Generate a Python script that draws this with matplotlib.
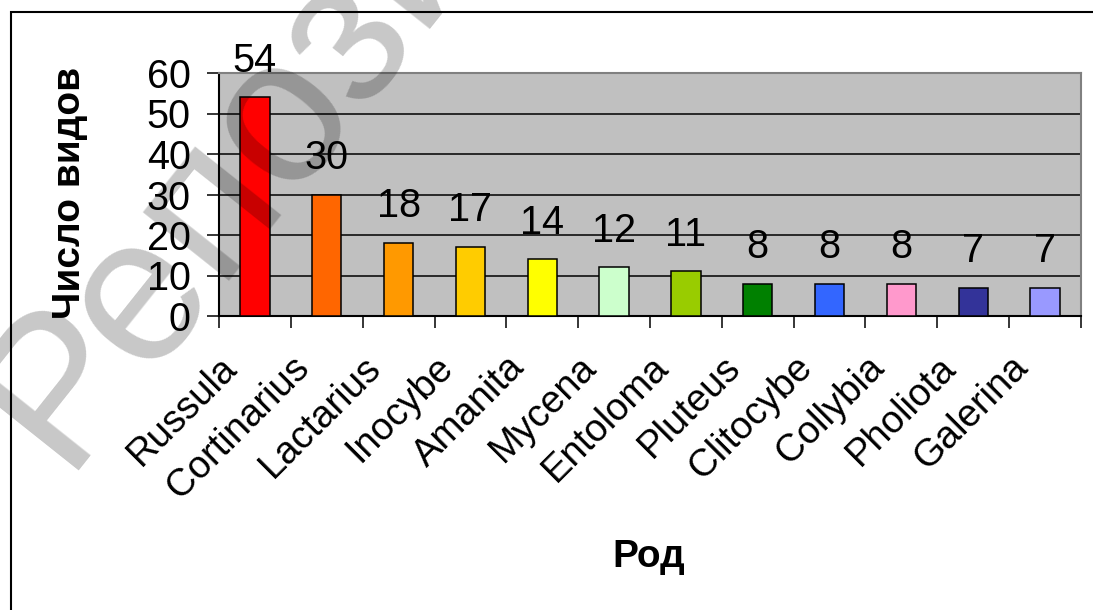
import matplotlib
matplotlib.use("Agg")
import matplotlib.pyplot as plt
from matplotlib.patches import Rectangle
from matplotlib.transforms import ScaledTranslation

plt.rcParams['font.family'] = ['Liberation Sans', 'DejaVu Sans']

genera = ['Russula', 'Cortinarius', 'Lactarius', 'Inocybe', 'Amanita', 'Mycena',
          'Entoloma', 'Pluteus', 'Clitocybe', 'Collybia', 'Pholiota', 'Galerina']
counts = [54, 30, 18, 17, 14, 12, 11, 8, 8, 8, 7, 7]
bar_colors = ['#FF0000', '#FF6600', '#FF9900', '#FFCC00', '#FFFF00', '#CCFFCC',
              '#99CC00', '#008000', '#3366FF', '#FF99CC', '#333399', '#9999FF']
y_ticks = [0, 10, 20, 30, 40, 50, 60]
y_label = 'Число видов'
x_label = 'Род'
watermark = 'Репозиторий'

W, H = 1093, 610
fig = plt.figure(figsize=(W / 100, H / 100), dpi=100)
fig.patch.set_facecolor('white')

# outer frame
fig.add_artist(Rectangle((11 / W, -0.1), 1.2, 1 - 12 / H + 0.1, transform=fig.transFigure,
                         fill=False, edgecolor='black', linewidth=1.5, clip_on=False))

left, right, top, bottom = 219, 1081, 73, 316
ax = fig.add_axes([left / W, 1 - bottom / H, (right - left) / W, (bottom - top) / H])
ax.set_facecolor('#C0C0C0')

x = list(range(len(genera)))
ax.bar(x, counts, width=0.41, color=bar_colors, edgecolor='black', linewidth=1.1, zorder=3)

for xi, v in zip(x, counts):
    ax.annotate(str(v), (xi, v), xytext=(0, 18.5), textcoords='offset points',
                ha='center', va='baseline', fontsize=28.5, zorder=5)

ax.set_xlim(-0.5, len(genera) - 0.5)
ax.set_ylim(0, 60)
ax.set_yticks(y_ticks)
ax.set_yticklabels([str(t) for t in y_ticks], fontsize=28.5)
for t in y_ticks[1:-1]:
    ax.axhline(t, color='black', linewidth=1.1, zorder=1)

ax.set_xticks([i - 0.5 for i in range(len(genera) + 1)])
ax.set_xticklabels([])
ax.tick_params(axis='y', direction='out', length=8.5, width=1.1, pad=12)
ax.tick_params(axis='x', direction='out', length=8.5, width=1.1)

for s in ['left', 'bottom']:
    ax.spines[s].set_color('black')
    ax.spines[s].set_linewidth(1.5)
for s in ['top', 'right']:
    ax.spines[s].set_color('#808080')
    ax.spines[s].set_linewidth(1.5)

# category labels, rotated
for xi, name in zip(x, genera):
    off = ScaledTranslation(-23 / 100, -46 / 100, fig.dpi_scale_trans)
    ax.text(xi, 0, name, rotation=45, rotation_mode='anchor', ha='right', va='center',
            fontsize=27.5, transform=ax.get_xaxis_transform() + off, clip_on=False)

fig.text(70 / W, 1 - 193 / H, y_label, rotation=90, ha='center', va='center',
         fontsize=28, fontweight='bold')
fig.text(649 / W, 1 - 557 / H, x_label, ha='center', va='center',
         fontsize=28, fontweight='bold')

# watermark
fig.text(62 / W, 1 - 470 / H, watermark, rotation=51.5, rotation_mode='anchor',
         ha='left', va='baseline', fontsize=150, color='black', alpha=0.22, zorder=10)

fig.savefig('out.png', dpi=100)
